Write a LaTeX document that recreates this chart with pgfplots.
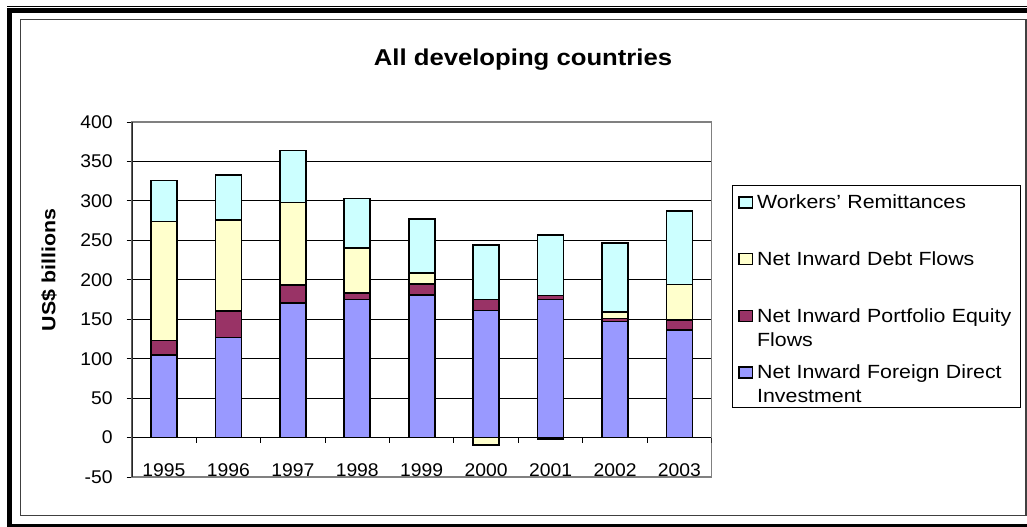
\documentclass[border=0pt]{standalone}
\usepackage{fontspec}
\setmainfont{Liberation Sans}[FakeStretch=1.12]
\newfontfamily\tickfont{Liberation Sans}[FakeStretch=1.05]
\usepackage{pgfplots}
\usepackage{pgfplotstable}
\pgfplotsset{compat=1.18}

\definecolor{fdi}{RGB}{153,153,255}
\definecolor{equity}{RGB}{153,51,102}
\definecolor{debt}{RGB}{255,255,204}
\definecolor{remit}{RGB}{204,255,255}
\definecolor{frame}{RGB}{128,128,128}

% US$ billions; positive parts are stacked, negative debt flows hang below zero
\pgfplotstableread{
x year fdi equity debt remit
0 1995 105 18 151 52
1 1996 127 33 116 57
2 1997 171 22 105 66
3 1998 175  8  57 63
4 1999 181 14  14 68
5 2000 161 14   0 69
6 2001 175  5   0 77
7 2002 147  4   8 88
8 2003 136 13  45 93
}\flows

\pgfplotstableread{
x debt
5 -9
6 -1.5
}\negdebt

\pgfplotsset{
  flowaxis/.style={
    at={(98.775pt,36.75pt)}, anchor=south west,
    scale only axis, width=435pt, height=266.25pt,
    xmin=-0.5, xmax=8.5, ymin=-50, ymax=400,
    bar width=19.5pt,
  },
}

\begin{document}
\begin{tikzpicture}[x=0.75pt,y=0.75pt]
\useasboundingbox (0,0) rectangle (1027,526);
% outer double frame
\draw[line width=3.5pt] (9.7,-5) -- (9.7,515.5) -- (1040,515.5);
\draw[line width=0.75pt] (7.3,519.5) -- (1040,519.5);
\draw[line width=3pt] (7.3,0.5) -- (1040,0.5);
% chart area frame
\draw[black!75, line width=0.8pt] (20.5,10.7) rectangle (1026,506.5);

\node[font=\bfseries\fontsize{17.2}{20}\selectfont] at (523,466) {All developing countries};
\node[font=\bfseries\fontsize{14.3}{17}\selectfont, rotate=90] at (49,256) {US\$ billions};

\begin{axis}[flowaxis,
  ybar stacked,
  xtick=data,
  xticklabels={1995,1996,1997,1998,1999,2000,2001,2002,2003},
  x tick style={draw=none},
  ytick={-50,0,...,400},
  ytick pos=left, tick align=outside, major tick length=3.75pt,
  y tick style={black, line width=0.75pt},
  ymajorgrids, grid style={black, line width=0.7pt},
  axis line style={draw=frame, line width=1.1pt},
  tick label style={font=\tickfont\fontsize{13.8}{16}\selectfont},
  /pgf/number format/assume math mode=true,
  xticklabel style={anchor=base, yshift=4.4pt},
  yticklabel style={xshift=-7pt},
  every axis plot/.append style={draw=black, line width=1.3pt},
  legend image code/.code={\draw[#1, line width=1pt] (0pt,0.75pt) rectangle (10pt,9pt);},
  reverse legend,
  legend style={
    at={(1.035,0.8225)}, anchor=north west,
    draw=black, line width=0.75pt, fill=white,
    inner xsep=4.5pt, inner ysep=0pt,
    column sep=0pt, row sep=3.5pt,
    font=\fontsize{14.3}{18}\selectfont,
    cells={anchor=base west},
    nodes={text height=17.5pt, text depth=21.5pt, align=left,
           text width=190pt, inner xsep=3pt, inner ysep=0pt},
  },
]
\addplot[fill=fdi] table[x=x, y=fdi] {\flows};
\addlegendentry{\mbox{Net Inward Foreign Direct}\\Investment}
\addplot[fill=equity] table[x=x, y=equity] {\flows};
\addlegendentry{\mbox{Net Inward Portfolio Equity}\\Flows}
\addplot[fill=debt] table[x=x, y=debt] {\flows};
\addlegendentry{\mbox{Net Inward Debt Flows}}
\addplot[fill=remit] table[x=x, y=remit] {\flows};
\addlegendentry{\mbox{Workers' Remittances}}
% left axis line and category ticks on the zero line
\draw[black!85, line width=1.2pt] (axis description cs:0,0) -- (axis description cs:0,1);
\pgfplotsinvokeforeach{0.5,1.5,2.5,3.5,4.5,5.5,6.5,7.5,8.5}{
  \draw[black, line width=0.75pt] (axis cs:#1,0) -- ++(0pt,-4.1pt);
}
\end{axis}

\begin{axis}[flowaxis, hide axis, ybar, bar shift=0pt]
\addplot[fill=debt, draw=black, line width=1.3pt] table[x=x, y=debt] {\negdebt};
\end{axis}
\end{tikzpicture}
\end{document}
